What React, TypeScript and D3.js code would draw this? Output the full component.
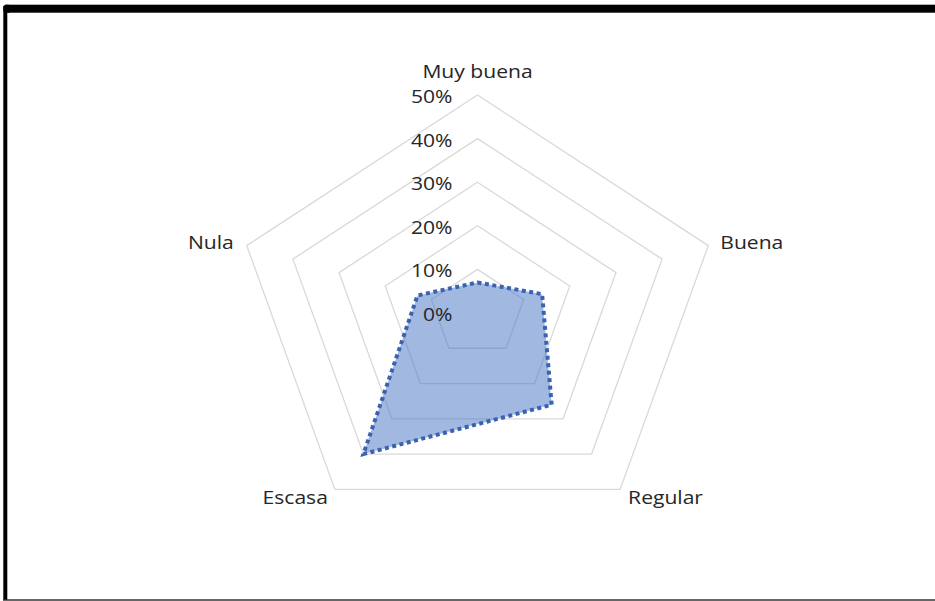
import React from "react";
import * as d3 from "d3";

const categories = ["Muy buena", "Buena", "Regular", "Escasa", "Nula"];
const values = [0.07, 0.14, 0.26, 0.4, 0.13];
const ticks = [0, 0.1, 0.2, 0.3, 0.4, 0.5];

const W = 935;
const H = 601;
const cx = 477.5;
const cy = 313;
const R = 218;
const sx = 1.113;
const tx = 1.14;

const r = d3.scaleLinear().domain([0, 0.5]).range([0, R]);
const angle = d3
  .scaleLinear()
  .domain([0, categories.length])
  .range([0, 2 * Math.PI]);

function pt(i: number, v: number): [number, number] {
  const a = angle(i);
  return [cx + sx * r(v) * Math.sin(a), cy - r(v) * Math.cos(a)];
}

const line = d3.line().curve(d3.curveLinearClosed);

const labelPos = [
  { dx: 0, dy: -235, anchor: "middle" },
  { dx: 12, dy: 3, anchor: "start" },
  { dx: 8, dy: 15, anchor: "start" },
  { dx: -7, dy: 15, anchor: "end" },
  { dx: -13, dy: 3, anchor: "end" },
];

export default function App() {
  const fmt = d3.format(".0%");
  const rings = ticks.filter((t) => t > 0);
  const font = "'Open Sans', sans-serif";
  return (
    <svg
      width={W}
      height={H}
      style={{ position: "absolute", left: 0, top: 0, background: "#fff" }}
    >
      {rings.map((t) => (
        <path
          key={t}
          d={line(categories.map((_, i) => pt(i, t))) || ""}
          fill="none"
          stroke="#d9d9d9"
          strokeWidth={1.3}
        />
      ))}
      <path
        d={line(values.map((v, i) => pt(i, v))) || ""}
        fill="#4472c4"
        fillOpacity={0.5}
        stroke="#3a62b0"
        strokeWidth={4}
        strokeDasharray="4 3.5"
        strokeLinejoin="miter"
      />
      {ticks.map((t) => (
        <text
          key={t}
          transform={`translate(${cx - 25},${cy - r(t) + 8}) scale(${tx},1)`}
          textAnchor="end"
          fontFamily={font}
          fontSize={18.5}
          fill="#262626"
        >
          {fmt(t)}
        </text>
      ))}
      {categories.map((c, i) => {
        const [x, y] = i === 0 ? [cx, cy] : pt(i, 0.5);
        const lp = labelPos[i];
        const yy = i === 0 ? 78 : y + lp.dy;
        return (
          <text
            key={c}
            transform={`translate(${x + lp.dx},${yy}) scale(${tx},1)`}
            textAnchor={lp.anchor as any}
            fontFamily={font}
            fontSize={18.5}
            fill="#262626"
          >
            {c}
          </text>
        );
      })}
      <rect x={3.3} y={6} width={4} height={594} fill="#000" />
      <rect x={5} y={4.7} width={930} height={8} fill="#000" />
      <rect x={3.3} y={4.7} width={8} height={8} rx={3} fill="#000" />
      <line x1={3} x2={935} y1={600} y2={600} stroke="#333" strokeWidth={1.5} />
    </svg>
  );
}
